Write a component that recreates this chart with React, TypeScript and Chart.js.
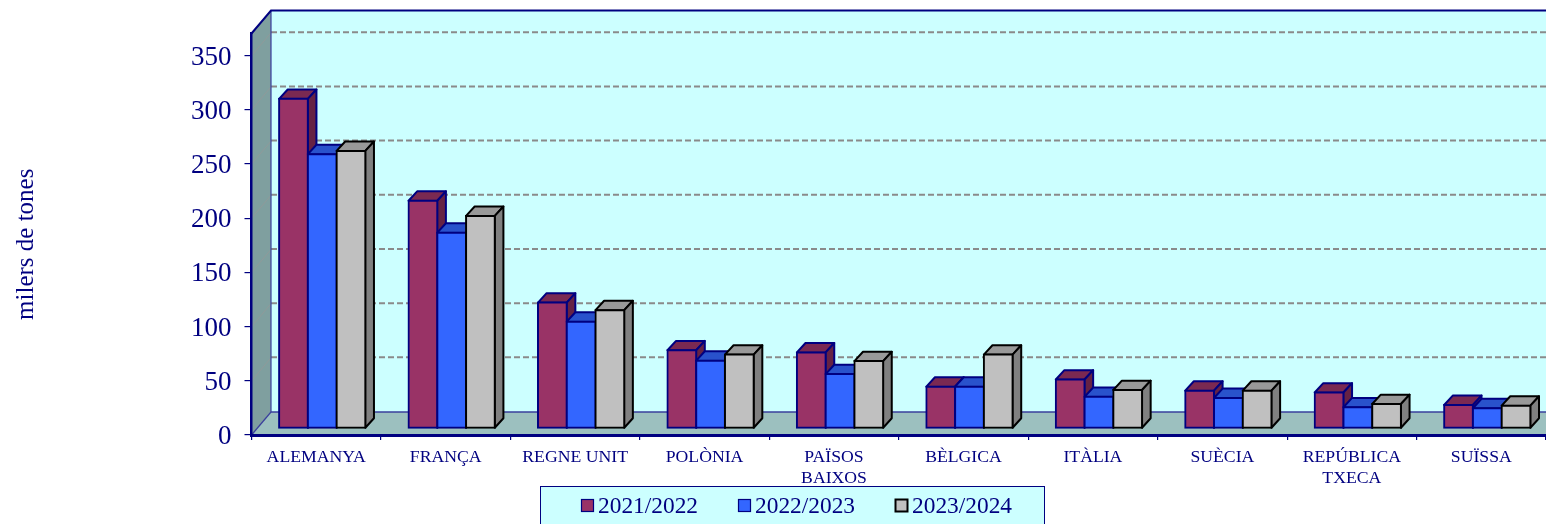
import React, { useEffect, useRef } from "react";
import { Chart, registerables } from "chart.js";

Chart.register(...registerables);

const categories: (string | string[])[] = [
  "ALEMANYA", "FRANÇA", "REGNE UNIT", "POLÒNIA", ["PAÏSOS", "BAIXOS"],
  "BÈLGICA", "ITÀLIA", "SUÈCIA", ["REPÚBLICA", "TXECA"], "SUÏSSA",
];
const season1 = [304, 210, 116, 72, 70, 38.4, 45, 34.7, 33, 21.5];
const season2 = [253, 180.5, 98.4, 62.4, 50, 38.4, 29, 28, 19.4, 18.5];
const season3 = [256, 196, 109, 68, 62, 68, 35.3, 34.7, 22.4, 20.9];
const seasonNames = ["2021/2022", "2022/2023", "2023/2024"];
const yTicks = [0, 50, 100, 150, 200, 250, 300, 350];
const yMax = 370.5;
const axisTitle = "milers de tones";

const NAVY = "#000080";
const SERIF = "'Liberation Serif', 'Times New Roman', serif";
const styles = [
  { front: "#993366", top: "#7a2952", side: "#662244", line: "#000080" },
  { front: "#3366ff", top: "#2952cc", side: "#2244aa", line: "#000080" },
  { front: "#c0c0c0", top: "#999999", side: "#808080", line: "#000000" },
];

const WALL_DX = 19.5;
const WALL_DY = 23;
const BAR_SHIFT_X = 6;
const BAR_SHIFT_Y = 6.7;
const BAR_DX = 8.6;
const BAR_DY = 9.4;

function poly(ctx: CanvasRenderingContext2D, pts: number[][], fill?: string, stroke?: string, lw = 2) {
  ctx.beginPath();
  pts.forEach((p, i) => (i ? ctx.lineTo(p[0], p[1]) : ctx.moveTo(p[0], p[1])));
  if (fill) {
    ctx.closePath();
    ctx.fillStyle = fill;
    ctx.fill();
  }
  if (stroke) {
    ctx.strokeStyle = stroke;
    ctx.lineWidth = lw;
    ctx.stroke();
  }
}

function shiftDraw(chart: any, scale: any, method: string, dy: number) {
  const orig = scale[method];
  scale[method] = function (...args: any[]) {
    chart.ctx.save();
    chart.ctx.translate(0, dy);
    orig.apply(this, args);
    chart.ctx.restore();
  };
}

const walls3d = {
  id: "walls3d",
  beforeDraw(chart: any) {
    const { ctx, chartArea: a, scales } = chart;
    const { left: l, right: r, top: t, bottom: b } = a;
    const bx = l + WALL_DX;
    ctx.save();
    poly(ctx, [[bx, t - WALL_DY], [r, t - WALL_DY], [r, b - WALL_DY], [bx, b - WALL_DY]], "#ccffff");
    poly(ctx, [[l, t], [bx, t - WALL_DY], [bx, b - WALL_DY], [l, b]], "#7f9f9f");
    poly(ctx, [[l, b], [bx, b - WALL_DY], [r, b - WALL_DY], [r, b]], "#9cc0bf");
    yTicks.slice(1).forEach((v) => {
      const y = scales.y.getPixelForValue(v);
      poly(ctx, [[l, y], [bx, y - WALL_DY]], undefined, "#8f9a9a", 1);
      ctx.setLineDash([6, 3]);
      poly(ctx, [[bx, y - WALL_DY - 0.5], [r, y - WALL_DY - 0.5]], undefined, "#8a8a8a", 2);
      ctx.setLineDash([]);
    });
    poly(ctx, [[bx, t - WALL_DY], [bx, b - WALL_DY]], undefined, "#3a3f9c", 1.2);
    poly(ctx, [[bx, b - WALL_DY], [r, b - WALL_DY]], undefined, "#3a3f9c", 1.5);
    poly(ctx, [[l, b], [bx, b - WALL_DY]], undefined, "#3a3f9c", 1.2);
    poly(ctx, [[l, t], [bx, t - WALL_DY], [r, t - WALL_DY]], undefined, NAVY, 2);
    ctx.restore();
  },
  // Bars are painted left to right so each bar hides the side face of its neighbour.
  beforeDatasetsDraw(chart: any) {
    const { ctx } = chart;
    ctx.save();
    ctx.translate(BAR_SHIFT_X, -BAR_SHIFT_Y);
    chart.data.datasets.forEach((_: any, i: number) => {
      const meta = chart.getDatasetMeta(i);
      const st = styles[i];
      ctx.save();
      ctx.lineJoin = "round";
      meta.data.forEach((bar: any) => {
        const { x, y, base, width } = bar.getProps(["x", "y", "base", "width"], true);
        const lx = x - width / 2;
        const rx = x + width / 2;
        poly(ctx, [[lx, y], [lx + BAR_DX, y - BAR_DY], [rx + BAR_DX, y - BAR_DY], [rx, y]], st.top, st.line);
        poly(ctx, [[rx, y], [rx + BAR_DX, y - BAR_DY], [rx + BAR_DX, base - BAR_DY], [rx, base]], st.side, st.line);
      });
      ctx.restore();
      meta.controller.draw();
    });
    ctx.restore();
    return false;
  },
  afterDraw(chart: any) {
    const { ctx } = chart;
    ctx.save();
    ctx.fillStyle = "#ccffff";
    ctx.fillRect(540.5, 486.5, 504, 40);
    ctx.strokeStyle = NAVY;
    ctx.lineWidth = 1;
    ctx.strokeRect(540.5, 486.5, 504, 40);
    ctx.font = `23.4px ${SERIF}`;
    ctx.textBaseline = "alphabetic";
    chart.data.datasets.forEach((ds: any, i: number) => {
      const x = 581.5 + i * 157;
      ctx.fillStyle = styles[i].front;
      ctx.strokeStyle = styles[i].line;
      ctx.lineWidth = i === 2 ? 2 : 1.2;
      ctx.fillRect(x, 499.5, 12, 12);
      ctx.strokeRect(x, 499.5, 12, 12);
      ctx.fillStyle = NAVY;
      ctx.fillText(ds.label, x + 16.5, 513);
    });
    ctx.restore();
  },
  afterLayout(chart: any) {
    const y = chart.scales.y;
    if (!y.__shifted) {
      y.__shifted = true;
      shiftDraw(chart, y, "drawTitle", 10);
      shiftDraw(chart, y, "drawLabels", 1.8);
    }
  },
};

export default function App() {
  const ref = useRef<HTMLCanvasElement>(null);
  useEffect(() => {
    const series = [season1, season2, season3];
    const chart = new Chart(ref.current!, {
      type: "bar",
      plugins: [walls3d],
      data: {
        labels: categories as any,
        datasets: series.map((data, i) => ({
          label: seasonNames[i],
          data,
          clip: false as any,
          backgroundColor: styles[i].front,
          borderColor: styles[i].line,
          borderWidth: 2,
          borderSkipped: false,
          inflateAmount: 1,
          categoryPercentage: 0.6664,
          barPercentage: 1,
        })),
      },
      options: {
        responsive: false,
        animation: false,
        events: [],
        layout: { padding: { left: 0, right: 0, top: 33.5, bottom: 0 } },
        plugins: { legend: { display: false }, tooltip: { enabled: false }, title: { display: false } },
        scales: {
          x: {
            type: "category",
            offset: true,
            afterFit: (s: any) => { s.height = 89; },
            grid: { display: true, drawOnChartArea: false, offset: true, tickLength: 5, color: NAVY, lineWidth: 1.2 },
            border: { display: true, color: NAVY, width: 3 },
            ticks: {
              color: NAVY, autoSkip: false, maxRotation: 0, minRotation: 0, padding: 7,
              font: { family: SERIF, size: 17.7, lineHeight: 1.19 },
            },
          },
          y: {
            min: 0,
            max: yMax,
            afterFit: (s: any) => { s.width = 251.5; },
            afterBuildTicks: (s: any) => { s.ticks = yTicks.map((value) => ({ value })); },
            grid: { display: true, drawOnChartArea: false, tickLength: 7, color: NAVY, lineWidth: 1.2 },
            border: { display: true, color: NAVY, width: 2.5 },
            ticks: { color: NAVY, padding: 13, font: { family: SERIF, size: 27 } },
            title: {
              display: true, text: axisTitle, color: NAVY,
              font: { family: SERIF, size: 25 }, padding: { top: 11, bottom: 0 },
            },
          },
        },
      },
    } as any);
    return () => chart.destroy();
  }, []);
  return (
    <div style={{ position: "fixed", left: 0, top: 0, width: 1546, height: 524, overflow: "hidden", background: "#fff" }}>
      <canvas ref={ref} width={1546} height={524} style={{ display: "block" }} />
    </div>
  );
}
